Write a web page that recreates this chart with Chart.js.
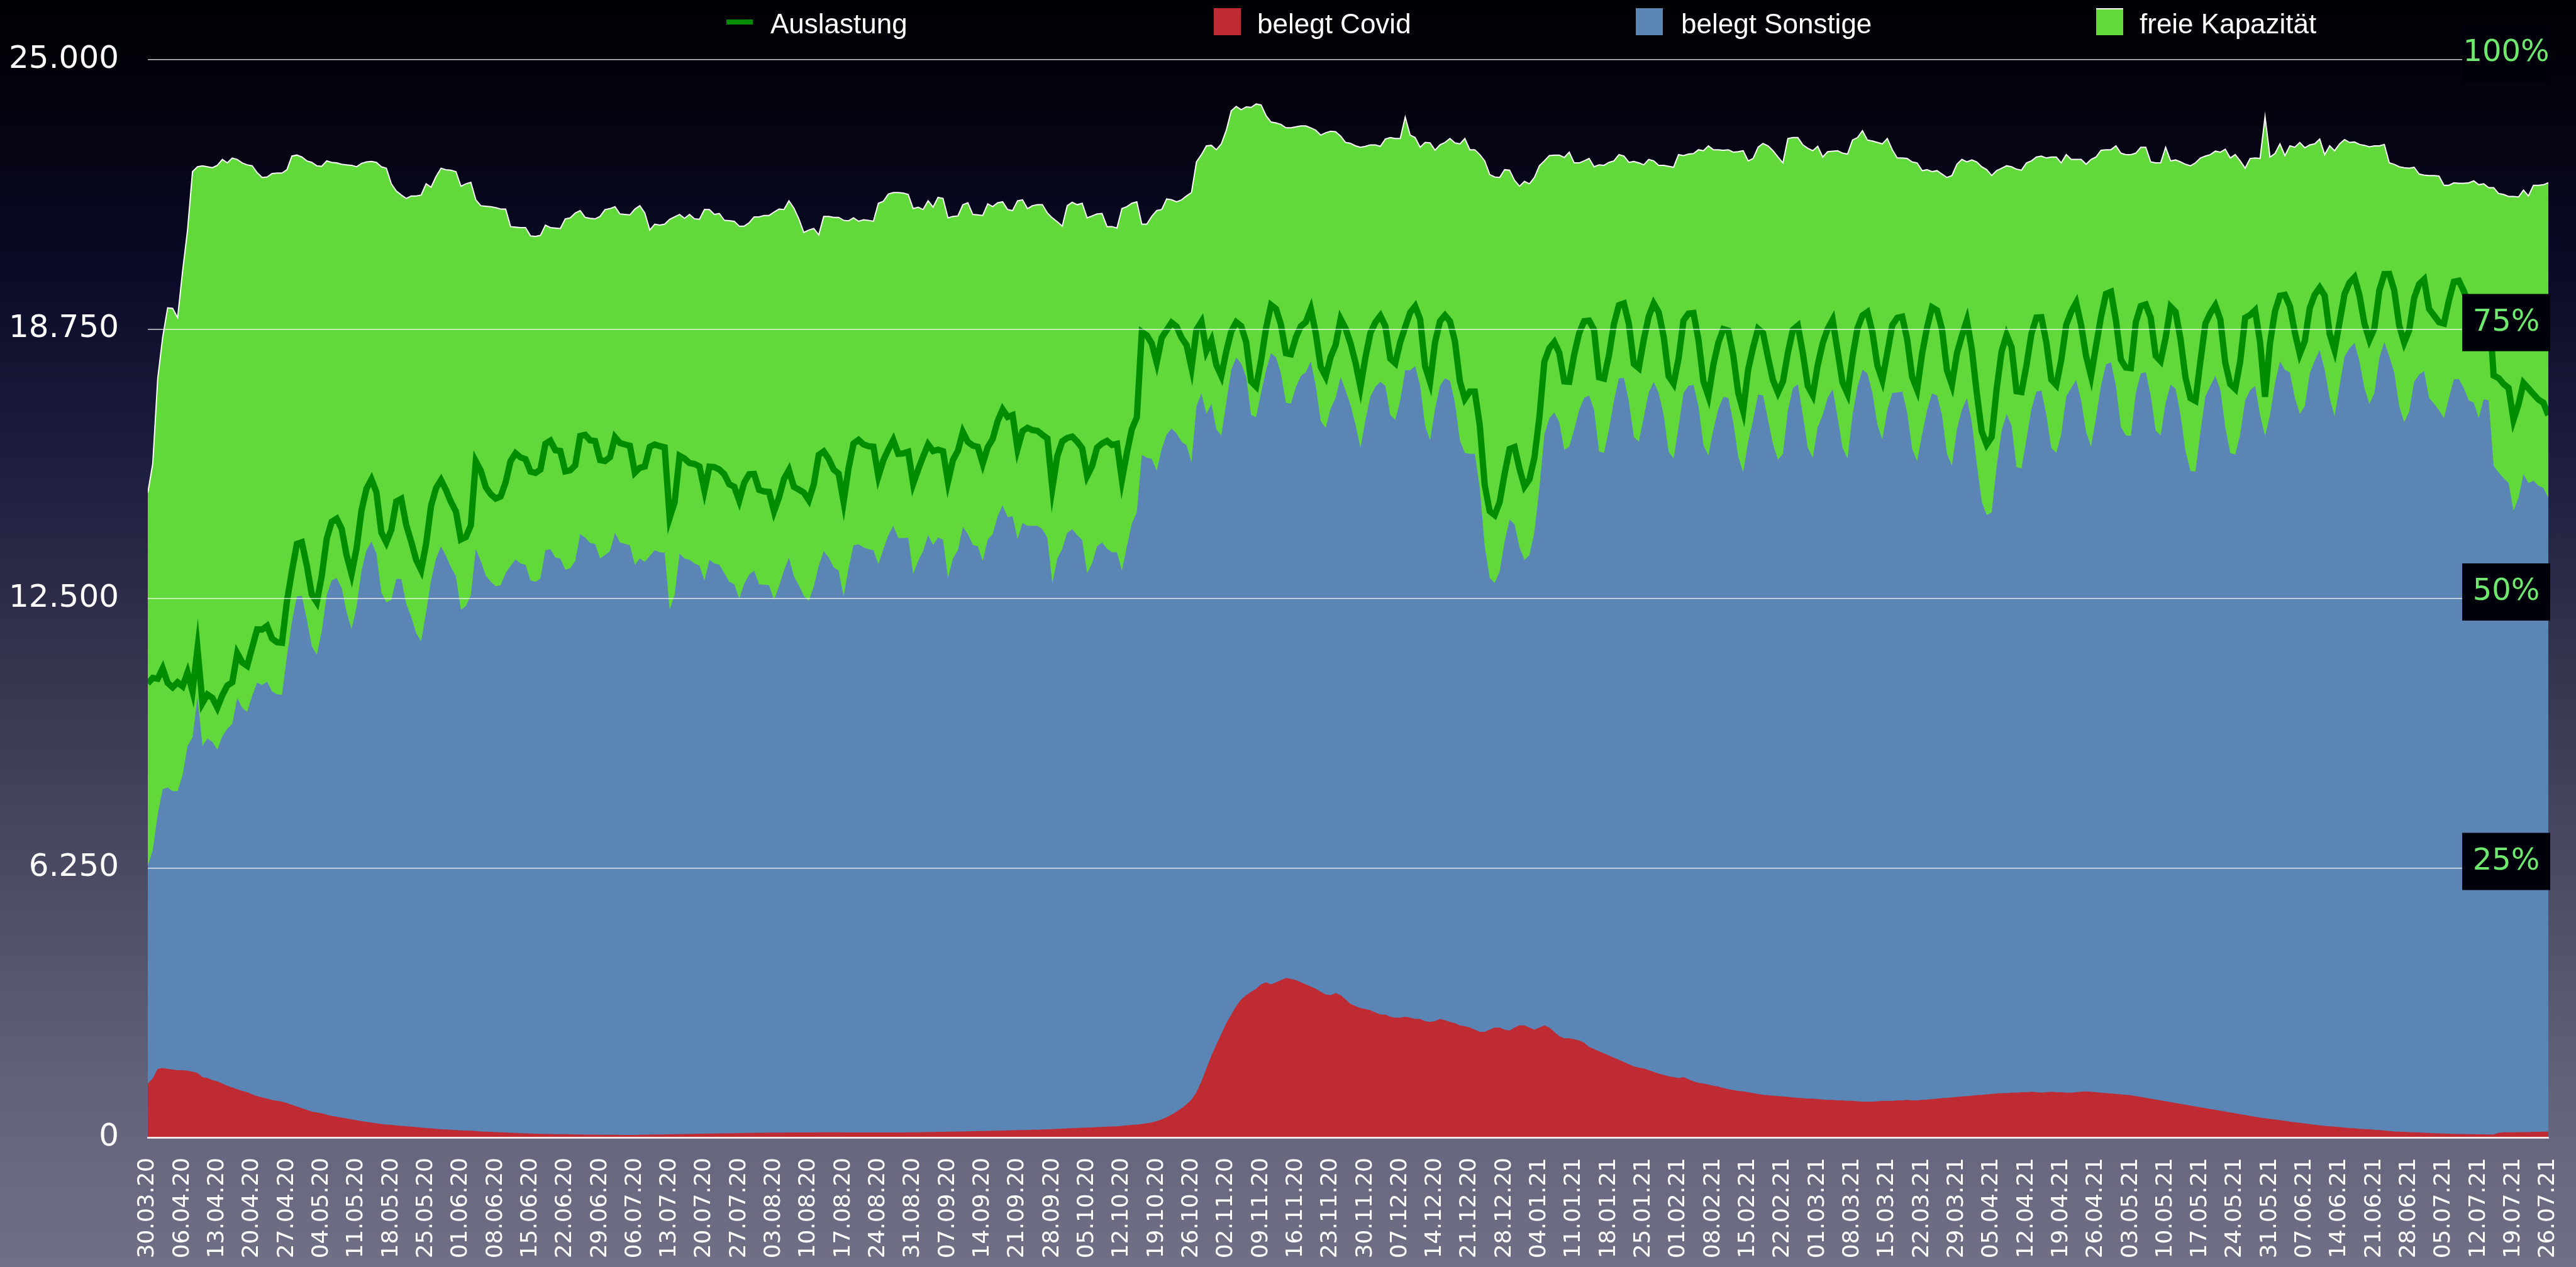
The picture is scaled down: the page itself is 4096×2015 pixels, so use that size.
<!DOCTYPE html>
<html lang="de">
<head>
<meta charset="utf-8">
<title>Auslastung Intensivbetten</title>
<script src="https://cdn.jsdelivr.net/npm/chart.js@4.4.1/dist/chart.umd.min.js"></script>
<style>
  html, body { margin: 0; padding: 0; }
  body {
    width: 4096px;
    height: 2015px;
    overflow: hidden;
    background: linear-gradient(to bottom, #010104 0%, #03030f 9%, #0b0b29 22%, #1f1f40 38%, #34344f 52%, #4c4c65 70%, #62627a 86%, #6f6f86 100%);
  }
  canvas { display: block; }
</style>
</head>
<body>
<canvas id="chart" width="4096" height="2015"></canvas>
<script>
"use strict";

// tick labels of the time axis (one per week, first day = 30.03.20)
const wochenLabels = [
  "30.03.20", "06.04.20", "13.04.20", "20.04.20", "27.04.20", "04.05.20", "11.05.20",
  "18.05.20", "25.05.20", "01.06.20", "08.06.20", "15.06.20", "22.06.20", "29.06.20",
  "06.07.20", "13.07.20", "20.07.20", "27.07.20", "03.08.20", "10.08.20", "17.08.20",
  "24.08.20", "31.08.20", "07.09.20", "14.09.20", "21.09.20", "28.09.20", "05.10.20",
  "12.10.20", "19.10.20", "26.10.20", "02.11.20", "09.11.20", "16.11.20", "23.11.20",
  "30.11.20", "07.12.20", "14.12.20", "21.12.20", "28.12.20", "04.01.21", "11.01.21",
  "18.01.21", "25.01.21", "01.02.21", "08.02.21", "15.02.21", "22.02.21", "01.03.21",
  "08.03.21", "15.03.21", "22.03.21", "29.03.21", "05.04.21", "12.04.21", "19.04.21",
  "26.04.21", "03.05.21", "10.05.21", "17.05.21", "24.05.21", "31.05.21", "07.06.21",
  "14.06.21", "21.06.21", "28.06.21", "05.07.21", "12.07.21", "19.07.21", "26.07.21",
];

const prozentTicks = [25, 50, 75, 100];

// daily values, one row per week (Mon..Sun)
// beds occupied by covid patients
const belegtCovid = [
  1250, 1370, 1590, 1610, 1590, 1575, 1560,
  1560, 1550, 1525, 1500, 1400, 1380, 1330,
  1300, 1250, 1200, 1160, 1120, 1080, 1050,
  1000, 960, 930, 900, 870, 850, 830,
  800, 760, 720, 680, 640, 600, 580,
  560, 530, 500, 480, 460, 440, 420,
  400, 380, 360, 345, 330, 315, 300,
  290, 280, 270, 260, 250, 240, 230,
  220, 210, 200, 190, 185, 180, 170,
  165, 160, 155, 150, 140, 135, 130,
  125, 120, 115, 110, 105, 100, 95,
  90, 88, 85, 82, 80, 78, 76,
  75, 72, 70, 68, 66, 65, 64,
  63, 62, 62, 61, 60, 60, 60,
  60, 62, 64, 66, 68, 70, 70,
  72, 75, 78, 80, 82, 84, 86,
  88, 90, 92, 94, 96, 98, 100,
  102, 104, 106, 108, 110, 110, 112,
  112, 114, 114, 116, 116, 116, 118,
  118, 118, 120, 120, 120, 120, 120,
  118, 118, 116, 116, 115, 115, 115,
  115, 115, 116, 116, 118, 118, 120,
  120, 122, 124, 126, 128, 130, 132,
  134, 136, 138, 140, 142, 145, 148,
  150, 152, 155, 158, 160, 163, 166,
  170, 172, 175, 178, 180, 185, 190,
  195, 200, 205, 210, 215, 220, 225,
  230, 235, 240, 245, 250, 255, 260,
  270, 280, 290, 300, 315, 330, 350,
  380, 420, 470, 530, 600, 680, 770,
  880, 1050, 1300, 1600, 1900, 2150, 2400,
  2650, 2850, 3050, 3200, 3300, 3380, 3450,
  3550, 3600, 3550, 3600, 3650, 3700, 3680,
  3650, 3600, 3550, 3500, 3450, 3380, 3320,
  3300, 3350, 3300, 3200, 3100, 3050, 3000,
  2980, 2950, 2900, 2850, 2850, 2800, 2780,
  2780, 2800, 2780, 2750, 2750, 2700, 2680,
  2700, 2750, 2720, 2680, 2650, 2600, 2580,
  2550, 2500, 2450, 2450, 2500, 2550, 2550,
  2500, 2480, 2550, 2600, 2600, 2550, 2500,
  2550, 2600, 2550, 2450, 2350, 2300, 2300,
  2280, 2250, 2200, 2100, 2050, 2000, 1950,
  1900, 1850, 1800, 1750, 1700, 1650, 1620,
  1600, 1560, 1520, 1480, 1450, 1420, 1400,
  1380, 1400, 1350, 1300, 1270, 1250, 1230,
  1200, 1180, 1150, 1120, 1100, 1080, 1070,
  1050, 1030, 1010, 990, 980, 970, 960,
  950, 940, 930, 920, 910, 900, 900,
  890, 880, 870, 870, 860, 860, 850,
  850, 840, 830, 830, 830, 840, 850,
  850, 850, 860, 860, 870, 860, 860,
  870, 880, 890, 900, 910, 920, 930,
  940, 950, 960, 970, 980, 990, 1000,
  1010, 1020, 1030, 1030, 1040, 1040, 1050,
  1050, 1060, 1050, 1040, 1050, 1060, 1050,
  1050, 1040, 1040, 1050, 1060, 1070, 1060,
  1050, 1040, 1030, 1020, 1010, 1000, 990,
  980, 960, 940, 920, 900, 880, 860,
  840, 820, 800, 780, 760, 740, 720,
  700, 680, 660, 640, 620, 600, 580,
  560, 540, 520, 500, 480, 460, 445,
  430, 415, 400, 385, 370, 355, 340,
  325, 310, 295, 280, 270, 260, 250,
  240, 230, 220, 210, 200, 195, 190,
  180, 170, 160, 150, 140, 135, 130,
  125, 120, 115, 110, 105, 100, 95,
  90, 88, 85, 82, 80, 78, 76,
  74, 72, 70, 70, 110, 120, 120,
  120, 125, 125, 125, 130, 130, 135,
  135,
];

// all occupied beds (covid + sonstige) = top of the blue area
const belegtGesamt = [
  6300, 6665, 7495, 8081, 8117, 8032, 8032,
  8410, 9082, 9277, 10213, 9084, 9254, 9175,
  8994, 9310, 9480, 9593, 10191, 9965, 9874,
  10247, 10552, 10495, 10575, 10349, 10281, 10270,
  11173, 11963, 12550, 12561, 12019, 11398, 11195,
  11737, 12584, 12922, 12979, 12753, 12189, 11794,
  12302, 13148, 13622, 13825, 13543, 12640, 12414,
  12471, 12956, 12956, 12380, 12076, 11703, 11511,
  12189, 12922, 13430, 13713, 13487, 13230, 13013,
  12245, 12324, 12584, 13645, 13374, 13035, 12889,
  12787, 12810, 13092, 13261, 13408, 13318, 13284,
  12922, 12889, 12968, 13622, 13645, 13453, 13430,
  13171, 13205, 13374, 13995, 13916, 13792, 13769,
  13430, 13509, 13600, 14029, 13803, 13769, 13735,
  13284, 13430, 13352, 13487, 13622, 13577, 13566,
  12245, 12584, 13543, 13430, 13397, 13318, 13261,
  12922, 13397, 13318, 13284, 13092, 12889, 12832,
  12493, 12844, 13058, 13148, 12832, 12821, 12810,
  12471, 12787, 13148, 13453, 13013, 12810, 12561,
  12448, 12776, 13261, 13600, 13453, 13227, 13148,
  12550, 13205, 13735, 13758, 13690, 13645, 13622,
  13295, 13645, 13972, 14187, 13905, 13905, 13916,
  13069, 13374, 13600, 13972, 13746, 13916, 13871,
  12979, 13430, 13622, 14164, 13995, 13746, 13713,
  13374, 13871, 13995, 14412, 14661, 14390, 14412,
  13882, 14255, 14187, 14187, 14187, 14108, 13910,
  12850, 13430, 13656, 14029, 14108, 13972, 13860,
  13092, 13318, 13713, 13803, 13656, 13577, 13577,
  13148, 13713, 14243, 14503, 15835, 15767, 15744,
  15462, 15970, 16309, 16444, 16331, 16140, 16060,
  15654, 16964, 17257, 16783, 17020, 16422, 16286,
  17043, 17810, 18092, 17946, 17641, 16760, 16704,
  17268, 17799, 18194, 18092, 17720, 17043, 17020,
  17404, 17663, 17753, 18002, 17438, 16625, 16456,
  16907, 17156, 17641, 17325, 16990, 16535, 15993,
  16647, 17189, 17415, 17528, 17438, 16760, 16647,
  17099, 17799, 17799, 17889, 17438, 16512, 16173,
  16896, 17438, 17607, 17550, 17043, 16173, 15880,
  15857, 15857, 15067, 13713, 12979, 12866, 13126,
  13825, 14333, 14221, 13690, 13397, 13510, 14051,
  15067, 16309, 16681, 16817, 16591, 15948, 16027,
  16422, 16873, 17156, 17212, 16873, 15914, 15880,
  16422, 17099, 17607, 17618, 17077, 16252, 16140,
  16704, 17285, 17528, 17268, 16760, 15914, 15744,
  16478, 17268, 17438, 17460, 16964, 16061, 15823,
  16422, 16896, 17178, 17156, 16591, 15801, 15428,
  16140, 16647, 17234, 17212, 16647, 16083, 15722,
  15857, 16873, 17381, 17471, 16760, 16004, 15767,
  16478, 16760, 17156, 17358, 16704, 15993, 15744,
  16760, 17415, 17810, 17720, 17268, 16535, 16196,
  16873, 17268, 17280, 17302, 16817, 15970, 15688,
  16309, 16873, 17257, 17212, 16760, 15857, 15586,
  16422, 16873, 17156, 16591, 15631, 14751, 14435,
  14503, 15575, 16399, 16783, 16512, 15552, 15519,
  16196, 16896, 17302, 17325, 16760, 15993, 15880,
  16309, 17189, 17381, 17573, 17099, 16365, 16027,
  16704, 17438, 17934, 17979, 17438, 16478, 16286,
  16275, 17268, 17720, 17754, 17212, 16399, 16286,
  17043, 17460, 17370, 16760, 15914, 15462, 15451,
  16365, 17189, 17438, 17664, 17347, 16478, 15880,
  15835, 16309, 17099, 17330, 17438, 16760, 16275,
  16760, 17494, 18002, 17810, 17742, 17155, 16783,
  16964, 17720, 18024, 18262, 17810, 17156, 16726,
  17438, 18115, 18307, 18431, 18002, 17381, 17009,
  17268, 18081, 18454, 18115, 17742, 16964, 16591,
  16839, 17528, 17697, 17776, 17156, 17020, 16873,
  16681, 17156, 17584, 17595, 17381, 17099, 17043,
  16681, 17122, 17099, 15575, 15428, 15293, 15180,
  14537, 14841, 15383, 15180, 15236, 15123, 15067,
  14841,
];

// all reported beds (occupied + free) = top of the green area
const bettenGesamt = [
  14954, 15631, 17607, 18566, 19244, 19232, 19018,
  20090, 21050, 22404, 22517, 22540, 22517, 22495,
  22551, 22687, 22607, 22720, 22687, 22607, 22562,
  22540, 22382, 22269, 22280, 22359, 22371, 22371,
  22449, 22765, 22788, 22743, 22653, 22619, 22540,
  22529, 22653, 22619, 22607, 22574, 22562, 22551,
  22517, 22596, 22630, 22641, 22619, 22517, 22483,
  22122, 21953, 21862, 21783, 21840, 21840, 21862,
  22122, 22043, 22291, 22483, 22449, 22438, 22404,
  22066, 22122, 22156, 21750, 21614, 21603, 21592,
  21569, 21535, 21535, 21129, 21117, 21106, 21106,
  20914, 20903, 20926, 21163, 21106, 21095, 21084,
  21309, 21332, 21445, 21501, 21343, 21321, 21309,
  21366, 21524, 21546, 21592, 21422, 21411, 21400,
  21535, 21614, 21445, 21050, 21185, 21163, 21185,
  21298, 21354, 21411, 21321, 21411, 21309, 21298,
  21524, 21524, 21411, 21434, 21276, 21265, 21253,
  21140, 21140, 21219, 21354, 21354, 21388, 21388,
  21467, 21535, 21524, 21727, 21558, 21309, 20993,
  21050, 21084, 20937, 21366, 21366, 21343, 21343,
  21275, 21264, 21332, 21253, 21287, 21275, 21253,
  21671, 21716, 21885, 21919, 21919, 21907, 21874,
  21546, 21580, 21524, 21727, 21580, 21806, 21783,
  21332, 21366, 21377, 21637, 21682, 21411, 21400,
  21388, 21659, 21592, 21682, 21704, 21524, 21501,
  21727, 21750, 21546, 21614, 21637, 21637, 21445,
  21330, 21241, 21140, 21614, 21693, 21637, 21671,
  21332, 21377, 21422, 21433, 21129, 21129, 21095,
  21546, 21592, 21671, 21704, 21185, 21185, 21366,
  21501, 21524, 21772, 21750, 21704, 21750, 21840,
  21919, 22630, 22799, 23002, 23014, 22912, 23048,
  23364, 23815, 23917, 23838, 23906, 23894, 23973,
  23951, 23702, 23556, 23533, 23499, 23420, 23420,
  23443, 23465, 23465, 23420, 23364, 23251, 23307,
  23341, 23330, 23228, 23081, 23059, 23002, 22969,
  22991, 23025, 23025, 22991, 23161, 23194, 23172,
  23172, 23669, 23251, 23194, 22969, 23081, 23070,
  22901, 23025, 23081, 23172, 23070, 23048, 23172,
  22912, 22912, 22799, 22653, 22337, 22280, 22269,
  22449, 22438, 22201, 22066, 22178, 22122, 22269,
  22540, 22653, 22777, 22788, 22788, 22732, 22856,
  22607, 22607, 22653, 22709, 22517, 22562, 22551,
  22619, 22653, 22799, 22765, 22619, 22641, 22607,
  22562, 22687, 22653, 22551, 22551, 22529, 22506,
  22799, 22777, 22811, 22822, 22912, 22890, 23002,
  22912, 22912, 22901, 22912, 22856, 22867, 22890,
  22653, 22709, 22969, 23059, 23002, 22890, 22743,
  22607, 23172, 23194, 23194, 23025, 22946, 22890,
  22991, 22743, 22867, 22879, 22890, 22833, 22811,
  23138, 23194, 23353, 23138, 23115, 23081, 23048,
  23172, 22912, 22720, 22720, 22709, 22630, 22607,
  22427, 22449, 22404, 22427, 22348, 22269, 22314,
  22574, 22687, 22630, 22675, 22630, 22517, 22449,
  22314, 22427, 22483, 22540, 22517, 22461, 22438,
  22607, 22653, 22743, 22765, 22720, 22743, 22743,
  22607, 22799, 22687, 22687, 22687, 22574, 22687,
  22743, 22901, 22912, 22912, 23002, 22833, 22799,
  22799, 22833, 22969, 22969, 22630, 22607, 22607,
  22969, 22653, 22675, 22630, 22574, 22540, 22607,
  22720, 22765, 22799, 22879, 22856, 22924, 22720,
  22799, 22653, 22483, 22709, 22720, 22709, 23680,
  22743, 22822, 23048, 22777, 23002, 22969, 23081,
  22958, 23025, 23048, 23161, 22799, 23002, 22890,
  23048, 23149, 23081, 23093, 23036, 23014, 22980,
  23002, 23002, 23036, 22607, 22574, 22517, 22495,
  22483, 22506, 22348, 22325, 22314, 22314, 22303,
  22088, 22088, 22145, 22133, 22133, 22145, 22190,
  22100, 22122, 22032, 22032, 21896, 21874, 21828,
  21828, 21817, 21975, 21840, 22088, 22088, 22100,
  22145,
];

const GREEN_LINE = "#008d00";
const RED = "#bf2b33";
const BLUE = "#5b85b5";
const GREEN = "#62d93a";
const LABEL_GREEN = "#6fe86f";

// occupancy in percent, shown on the hidden right axis
const auslastung = belegtGesamt.map((b, i) => (b / bettenGesamt[i]) * 100);

const points = (arr) => arr.map((v, i) => ({ x: i, y: v }));

function formatTausender(v) {
  return String(v).replace(/\B(?=(\d{3})+(?!\d))/g, ".");
}

// legend drawn by hand so the items sit where they sit in the original
const legendPos = [
  { marker: 1155, text: 1225 },
  { marker: 1930, text: 1999 },
  { marker: 2601, text: 2673 },
  { marker: 3333, text: 3402 },
];

const legendPlugin = {
  id: "ownLegend",
  afterDraw(chart) {
    const ctx = chart.ctx;
    ctx.save();
    ctx.font = "44px 'Liberation Sans'";
    ctx.textBaseline = "alphabetic";
    ctx.textAlign = "left";
    chart.data.datasets.forEach((ds, i) => {
      const p = legendPos[i];
      if (ds.type === "line" && !ds.fill) {
        ctx.fillStyle = ds.borderColor;
        ctx.fillRect(p.marker, 31, 42, 8);
      } else {
        ctx.fillStyle = ds.backgroundColor;
        ctx.fillRect(p.marker, 13, 43, 43);
        if (ds.borderWidth > 0) {
          ctx.fillStyle = ds.borderColor;
          ctx.fillRect(p.marker, 13, 43, 2);
        }
      }
      ctx.fillStyle = "#ffffff";
      ctx.fillText(ds.label, p.text, 53);
    });
    ctx.restore();
  },
};

// percent labels in black boxes at the right edge
const prozentPlugin = {
  id: "prozentLabels",
  afterDraw(chart) {
    const ctx = chart.ctx;
    const y1 = chart.scales.y1;
    const right = chart.chartArea.right + 3;
    ctx.save();
    ctx.font = "48px 'DejaVu Sans'";
    ctx.textAlign = "center";
    ctx.textBaseline = "middle";
    prozentTicks.forEach((p) => {
      const y = y1.getPixelForValue(p) - 11;
      ctx.fillStyle = "#00000a";
      ctx.fillRect(right - 140, y - 45, 140, 91);
      ctx.fillStyle = LABEL_GREEN;
      ctx.fillText(p + "%", right - 70, y + 1);
    });
    ctx.restore();
  },
};

const ctx = document.getElementById("chart").getContext("2d");
const chart = new Chart(ctx, {
  type: "line",
  data: {
    datasets: [
      {
        type: "line",
        label: "Auslastung",
        data: points(auslastung),
        yAxisID: "y1",
        borderColor: GREEN_LINE,
        backgroundColor: GREEN_LINE,
        borderWidth: 10,
        borderJoinStyle: "miter",
        pointRadius: 0,
        fill: false,
        tension: 0,
      },
      {
        type: "line",
        label: "belegt Covid",
        data: points(belegtCovid),
        yAxisID: "y",
        backgroundColor: RED,
        borderColor: RED,
        borderWidth: 0,
        pointRadius: 0,
        fill: "origin",
        tension: 0,
      },
      {
        type: "line",
        label: "belegt Sonstige",
        data: points(belegtGesamt),
        yAxisID: "y",
        backgroundColor: BLUE,
        borderColor: BLUE,
        borderWidth: 0,
        pointRadius: 0,
        fill: "origin",
        tension: 0,
      },
      {
        type: "line",
        label: "freie Kapazität",
        data: points(bettenGesamt),
        yAxisID: "y",
        backgroundColor: GREEN,
        borderColor: "#ffffff",
        borderWidth: 2,
        pointRadius: 0,
        fill: "origin",
        tension: 0,
      },
    ],
  },
  options: {
    responsive: false,
    animation: false,
    devicePixelRatio: 1,
    parsing: false,
    normalized: true,
    layout: { padding: { top: 95, right: 44, left: 0, bottom: 0 } },
    plugins: {
      legend: { display: false },
      tooltip: { enabled: false },
    },
    scales: {
      x: {
        type: "linear",
        min: 0,
        max: belegtGesamt.length - 1,
        afterBuildTicks: (scale) => {
          scale.ticks = wochenLabels.map((l, i) => ({ value: i * 7 }));
        },
        afterFit: (scale) => {
          scale.height = 206;
          scale.paddingLeft = 0;
          scale.paddingRight = 0;
        },
        grid: { display: false, drawTicks: false, tickLength: 0 },
        border: { display: true, color: "rgba(235,220,220,0.9)", width: 3, z: 1 },
        ticks: {
          autoSkip: false,
          maxRotation: 90,
          minRotation: 90,
          padding: 32,
          color: "#ffffff",
          font: { family: "'DejaVu Sans'", size: 36 },
          callback: (value, index) => wochenLabels[index],
        },
      },
      y: {
        type: "linear",
        position: "left",
        min: 0,
        max: 25000,
        afterFit: (scale) => {
          scale.width = 235;
        },
        grid: {
          color: "rgba(255,255,255,0.8)",
          lineWidth: 1.5,
          drawTicks: false,
          tickLength: 0,
          z: 1,
        },
        border: { display: false },
        ticks: {
          stepSize: 6250,
          padding: 46,
          color: "#ffffff",
          font: { family: "'DejaVu Sans'", size: 50 },
          callback: (v) => formatTausender(v),
        },
      },
      y1: {
        type: "linear",
        position: "right",
        display: false,
        min: 0,
        max: 100,
      },
    },
  },
  plugins: [legendPlugin, prozentPlugin],
});
</script>
</body>
</html>
